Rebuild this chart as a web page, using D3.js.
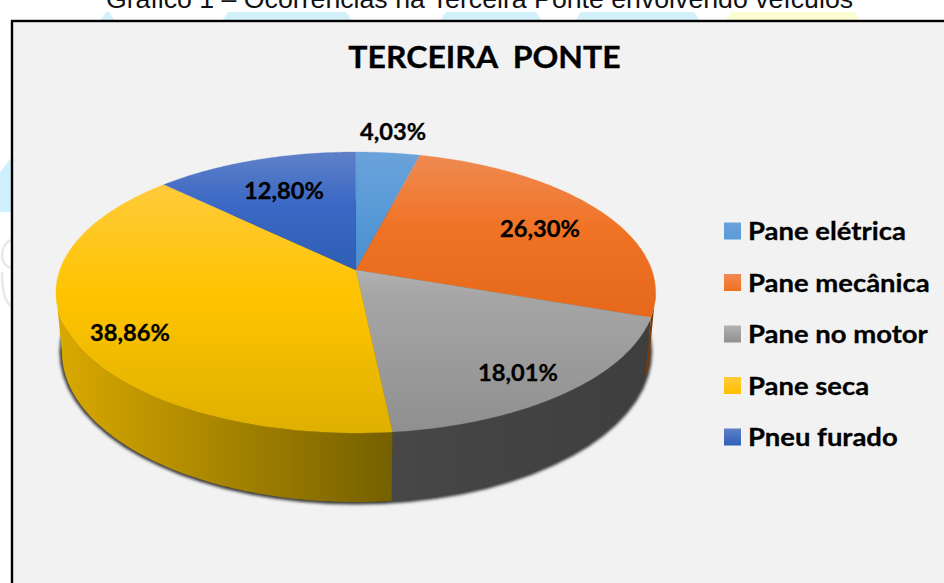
<!DOCTYPE html>
<html><head><meta charset="utf-8">
<script src="https://cdn.jsdelivr.net/npm/d3@7/dist/d3.min.js"></script>
<style>html,body{margin:0;padding:0;background:#fff;overflow:hidden}svg{display:block}</style>
</head><body><svg id="c" width="944" height="583"></svg>
<script>
const categories = ["Pane elétrica","Pane mecânica","Pane no motor","Pane seca","Pneu furado"];
const values = [4.03,26.30,18.01,38.86,12.80];
const valueLabels = ["4,03%","26,30%","18,01%","38,86%","12,80%"];
const topLight = ["#6ba2da","#ef8a52","#b2b2b2","#ffca3a","#5f80c8"];
const topMid = ["#5a9bd8","#f07325","#a6a6a6","#ffc400","#3a68c4"];
const topDark = ["#4a8fcf","#e6691b","#8f8f8f","#deb000","#2f5eb4"];
const legendDark = ["#5a9bd8","#f07020","#909090","#ffc000","#2f5fb8"];
const stopRanges = [[152,270],[155,318],[270,433],[185,433],[152,270]];
const wallLight = ["#2e5f8f","#8a4208","#474747","#d9a900","#1f3d75"];
const wallDark = ["#2e5f8f","#7a3a06","#3e3e3e","#756000","#1f3d75"];
const labelPos = [[393,132],[540,229],[518,373],[130,333],[284,191]];
const title = "TERCEIRA  PONTE";
const caption = "Gráfico 1 – Ocorrências na Terceira Ponte envolvendo veículos";
const bandCyan = [[100,115],[222,352],[440,542],[575,700]];
const bandYellow = [[725,860]];

const svg = d3.select("#c");
const defs = svg.append("defs");
const X0=355.8,Y0=270,A=296,B=136.9,K=0.16,DEPTH=58,SHR=0.98;
const rawTop = t=>{const u=Math.sin(t),v=-Math.cos(t),d=1-K*v;return [X0+A*u/d,Y0+B*v/d];};
const rawLow = t=>{const v=-Math.cos(t),d=1-K*v,p=rawTop(t);return [X0+(p[0]-X0)*SHR,p[1]+DEPTH/d];};
const line = d3.line();
const arcPts=(f,a,b)=>d3.range(0,1.0001,1/80).map(s=>f(a+(b-a)*s));
const pie = d3.pie().sort(null).value(d=>d);
const arcs = pie(values);

// page decoration behind the caption
const band=(r,c)=>svg.append("path").attr("d",`M${r[0]},21 L${r[0]+6},12 L${r[1]-6},12 L${r[1]},21Z`).attr("fill",c);
bandCyan.forEach(r=>band(r,"#d3f1fb"));
bandYellow.forEach(r=>band(r,"#fbfccf"));
svg.append("path").attr("d","M0,172 L11,158 L11,212 L0,212Z").attr("fill","#cff0fd");
svg.append("path").attr("d","M11,240 Q2,244 2,256 Q3,266 11,268 M2,272 Q2,300 11,306").attr("fill","none").attr("stroke","#e8e8e8").attr("stroke-width",2.5);
svg.append("text").attr("x",479.5).attr("y",7.5).attr("text-anchor","middle")
  .attr("font-family","Liberation Sans").attr("font-size",26.7).attr("fill","#111").text(caption);
svg.append("rect").attr("x",12).attr("y",21).attr("width",940).attr("height",570)
  .attr("fill","#f2f2f2").attr("stroke","#000").attr("stroke-width",2.4);
svg.append("text").attr("transform","translate(484.5,68) scale(1.05,1)").attr("text-anchor","middle")
  .style("white-space","pre").attr("font-family","Lato").attr("font-weight",700).attr("font-size",30.5)
  .attr("stroke","#000").attr("stroke-width",0.3).attr("fill","#000").text(title);

// shadow
const blur = defs.append("filter").attr("id","blur").attr("x","-10%").attr("y","-10%").attr("width","120%").attr("height","120%");
blur.append("feGaussianBlur").attr("stdDeviation",1.6);
svg.append("path").attr("d",line(arcPts(rawLow,0,2*Math.PI))+"Z").attr("fill","#3a3a3a").attr("stroke","#3a3a3a").attr("stroke-width",5).attr("filter","url(#blur)");

// gradients
arcs.forEach((a,i)=>{
  const g=defs.append("linearGradient").attr("id","t"+i).attr("gradientUnits","userSpaceOnUse").attr("x1",0).attr("x2",0).attr("y1",stopRanges[i][0]).attr("y2",stopRanges[i][1]);
  g.append("stop").attr("offset",0).attr("stop-color",topLight[i]);
  g.append("stop").attr("offset",i==2?0.15:0.45).attr("stop-color",topMid[i]);
  g.append("stop").attr("offset",1).attr("stop-color",topDark[i]);
  const w=defs.append("linearGradient").attr("id","w"+i).attr("gradientUnits","userSpaceOnUse").attr("y1",0).attr("y2",0).attr("x1",i==3?58:392).attr("x2",i==3?392:655);
  w.append("stop").attr("offset",0).attr("stop-color",wallLight[i]);
  w.append("stop").attr("offset",1).attr("stop-color",wallDark[i]);
  const l=defs.append("linearGradient").attr("id","l"+i).attr("x1",0).attr("x2",0).attr("y1",0).attr("y2",1);
  l.append("stop").attr("offset",0).attr("stop-color",topLight[i]);
  l.append("stop").attr("offset",1).attr("stop-color",legendDark[i]);
});

// walls: only the part facing the viewer
const lim0=Math.PI/2+Math.asin(K), lim1=2*Math.PI-lim0;
svg.append("g").selectAll("path").data(arcs).join("path").each(function(a,i){
  const s=Math.max(a.startAngle,lim0), e=Math.min(a.endAngle,lim1);
  if(e<=s){d3.select(this).remove();return;}
  d3.select(this).attr("d",line(arcPts(rawTop,s,e).concat(arcPts(rawLow,e,s)))+"Z").attr("fill",`url(#w${i})`);
});
// top
svg.append("g").selectAll("path").data(arcs).join("path")
  .attr("d",a=>line([[X0,Y0]].concat(arcPts(rawTop,a.startAngle,a.endAngle)))+"Z")
  .attr("fill",(a,i)=>`url(#t${i})`).attr("stroke",(a,i)=>`url(#t${i})`).attr("stroke-width",0.3);

// value labels
svg.append("g").selectAll("text").data(valueLabels).join("text")
  .attr("transform",(d,i)=>`translate(${labelPos[i][0]},${labelPos[i][1]+8}) scale(1.03,1)`).attr("text-anchor","middle")
  .attr("font-family","Lato").attr("font-weight",700).attr("font-size",23)
  .attr("stroke","#000").attr("stroke-width",0.3).attr("fill","#000").text(d=>d);

// legend
const ly=d3.scalePoint().domain(categories).range([231,437]);
const lg=svg.append("g").selectAll("g").data(categories).join("g").attr("transform",d=>`translate(724,${ly(d)})`);
lg.append("rect").attr("x",0).attr("y",-8.5).attr("width",17).attr("height",17).attr("fill",(d,i)=>`url(#l${i})`);
lg.append("text").attr("transform","translate(24,9) scale(1.098,1)").attr("font-family","Lato").attr("font-weight",700).attr("font-size",25)
  .attr("stroke","#000").attr("stroke-width",0.3).attr("fill","#000").text(d=>d);
</script></body></html>
